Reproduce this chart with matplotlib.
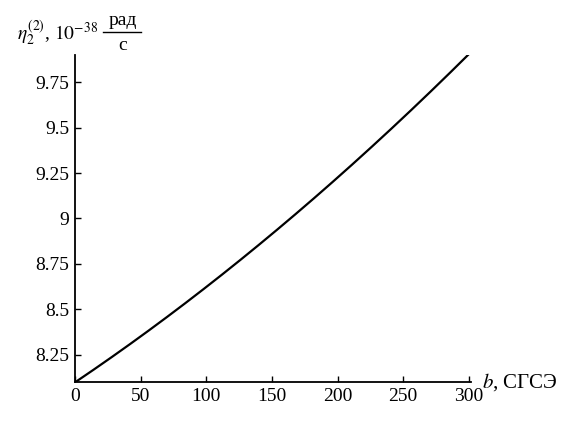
import matplotlib
matplotlib.use("Agg")
import numpy as np
import matplotlib.pyplot as plt
from matplotlib.lines import Line2D

# values
b = [0, 50, 100, 150, 200, 250, 300]
eta = [8.10, 8.35, 8.62, 8.91, 9.23, 9.56, 9.90]

xticks = [0, 50, 100, 150, 200, 250, 300]
yticks = [8.25, 8.5, 8.75, 9, 9.25, 9.5, 9.75]
ylabels = ["8.25", "8.5", "8.75", "9", "9.25", "9.5", "9.75"]

plt.rcParams['font.family'] = ['Liberation Serif', 'DejaVu Serif']
plt.rcParams['mathtext.fontset'] = 'stix'

fig = plt.figure(figsize=(5.77, 4.23), dpi=100)
ax = fig.add_axes([0.130, 0.097, 0.687, 0.773])

# smooth curve through read points
bb = np.linspace(0, 300, 301)
coef = np.polyfit(b, eta, 2)
ax.plot(bb, np.polyval(coef, bb), color='black', lw=1.6)

ax.set_xlim(0, 302)
ax.set_ylim(8.10, 9.90)
ax.spines['top'].set_visible(False)
ax.spines['right'].set_visible(False)
for s in ['left', 'bottom']:
    ax.spines[s].set_linewidth(1.3)

ax.set_xticks(xticks)
ax.set_xticklabels([str(v) for v in xticks])
ax.set_yticks(yticks)
ax.set_yticklabels(ylabels)
ax.tick_params(direction='in', length=4, width=1, labelsize=14, pad=4)

# axis labels in Mathematica style
fig.text(0.835, 0.097, "$b$, СГСЭ", fontsize=15, va='center', ha='left')
fig.text(0.03, 0.922, r"$\eta_2^{(2)}$, $10^{-38}$", fontsize=14, va='center', ha='left')
fig.text(0.212, 0.952, "рад", fontsize=14, va='center', ha='center')
fig.text(0.212, 0.893, "с", fontsize=14, va='center', ha='center')
fig.add_artist(Line2D([0.179, 0.245], [0.925, 0.925], color='black', lw=1,
                      transform=fig.transFigure))

fig.savefig("out.png", dpi=100)
